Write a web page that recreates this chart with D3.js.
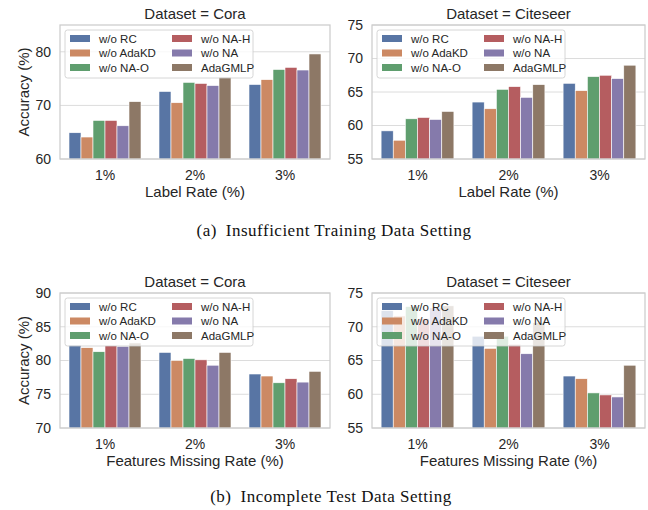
<!DOCTYPE html>
<html>
<head>
<meta charset="utf-8">
<script src="https://cdn.jsdelivr.net/npm/d3@7"></script>
<style>
  body { margin: 0; background: #fff; }
  svg { display: block; }
</style>
</head>
<body>
<svg id="chart" width="648" height="510"></svg>
<script>
const rates = ["1%", "2%", "3%"];
const variants = ["w/o RC", "w/o AdaKD", "w/o NA-O", "w/o NA-H", "w/o NA", "AdaGMLP"];
const colors = ["#5875a4", "#cc8963", "#5f9e6e", "#b55d60", "#857aab", "#8d7866"];

// one row per rate, one value per variant
const coraLabel = [
    [64.9, 64.1, 67.2, 67.2, 66.2, 70.7],
    [72.6, 70.5, 74.3, 74.1, 73.7, 75.3],
    [73.9, 74.8, 76.7, 77.1, 76.6, 79.6]
];
const citeseerLabel = [
    [59.2, 57.8, 61.0, 61.2, 60.9, 62.1],
    [63.5, 62.5, 65.4, 65.8, 64.2, 66.1],
    [66.3, 65.2, 67.3, 67.5, 67.0, 69.0]
];
const coraMissing = [
    [82.3, 81.9, 81.3, 82.2, 82.1, 82.6],
    [81.2, 80.0, 80.3, 80.1, 79.3, 81.2],
    [78.0, 77.7, 76.7, 77.3, 76.8, 78.4]
];
const citeseerMissing = [
    [72.4, 71.6, 73.0, 71.2, 72.8, 73.1],
    [68.6, 66.8, 68.6, 67.4, 66.0, 70.6],
    [62.7, 62.3, 60.2, 59.9, 59.6, 64.3]
];

const coraLabelTicks = [60, 70, 80];
const citeseerTicks = [55, 60, 65, 70, 75];
const coraMissingTicks = [70, 75, 80, 85, 90];

const panels = [
    { x0: 60, x1: 330, top: 25, bottom: 159, domain: [60, 85], ticks: coraLabelTicks,
      title: "Dataset = Cora", xlabel: "Label Rate (%)", ylabel: true, values: coraLabel },
    { x0: 372, x1: 645, top: 25, bottom: 159, domain: [55, 75], ticks: citeseerTicks,
      title: "Dataset = Citeseer", xlabel: "Label Rate (%)", ylabel: false, values: citeseerLabel },
    { x0: 60, x1: 330, top: 293, bottom: 428, domain: [70, 90], ticks: coraMissingTicks,
      title: "Dataset = Cora", xlabel: "Features Missing Rate (%)", ylabel: true, values: coraMissing },
    { x0: 372, x1: 645, top: 293, bottom: 428, domain: [55, 75], ticks: citeseerTicks,
      title: "Dataset = Citeseer", xlabel: "Features Missing Rate (%)", ylabel: false, values: citeseerMissing }
];

const captions = [
    { text: "(a)\u2002Insufficient Training Data Setting", x: 334, y: 236 },
    { text: "(b)\u2002Incomplete Test Data Setting", x: 331, y: 502 }
];

const sans = "Liberation Sans, Arial, sans-serif";
const svg = d3.select("#chart");

panels.forEach(function (p) {
    let g = svg.append("g");

    let x = d3.scaleBand()
        .domain(rates)
        .range([p.x0, p.x1]);

    let inner = d3.scaleBand()
        .domain(variants)
        .range([0, x.bandwidth() * 0.8]);

    let y = d3.scaleLinear()
        .domain(p.domain)
        .range([p.bottom, p.top]);

    // grid
    g.selectAll(".grid")
        .data(p.ticks)
        .enter()
        .append("line")
        .attr("x1", p.x0)
        .attr("x2", p.x1)
        .attr("y1", d => y(d))
        .attr("y2", d => y(d))
        .style("stroke", "#dcdcdc")
        .style("stroke-width", 1);

    // bars
    let groups = g.selectAll(".grp")
        .data(rates)
        .enter()
        .append("g")
        .attr("transform", d => `translate(${x(d) + x.bandwidth() * 0.1},0)`);

    groups.selectAll("rect")
        .data((r, i) => variants.map((v, j) => ({ v: v, val: p.values[i][j], c: colors[j] })))
        .enter()
        .append("rect")
        .attr("x", d => inner(d.v))
        .attr("width", inner.bandwidth())
        .attr("y", d => y(d.val))
        .attr("height", d => p.bottom - y(d.val))
        .style("fill", d => d.c)
        .style("stroke", "#fff")
        .style("stroke-width", 0.6);

    // frame
    g.append("rect")
        .attr("x", p.x0)
        .attr("y", p.top)
        .attr("width", p.x1 - p.x0)
        .attr("height", p.bottom - p.top)
        .style("fill", "none")
        .style("stroke", "#cccccc")
        .style("stroke-width", 1.25);

    // axes
    let yAxis = g.append("g")
        .attr("transform", `translate(${p.x0},0)`)
        .call(d3.axisLeft(y).tickValues(p.ticks).tickSize(0).tickPadding(9));
    yAxis.select(".domain").remove();
    yAxis.selectAll("text")
        .style("font-family", sans)
        .style("font-size", "14px")
        .style("fill", "#262626");

    let xAxis = g.append("g")
        .attr("transform", `translate(0,${p.bottom})`)
        .call(d3.axisBottom(x).tickSize(0).tickPadding(11));
    xAxis.select(".domain").remove();
    xAxis.selectAll("text")
        .style("font-family", sans)
        .style("font-size", "14px")
        .style("fill", "#262626");

    g.append("text")
        .attr("x", (p.x0 + p.x1) / 2)
        .attr("y", p.top - 6)
        .attr("text-anchor", "middle")
        .style("font-family", sans)
        .style("font-size", "15px")
        .style("fill", "#262626")
        .text(p.title);

    g.append("text")
        .attr("x", (p.x0 + p.x1) / 2)
        .attr("y", p.bottom + 38)
        .attr("text-anchor", "middle")
        .style("font-family", sans)
        .style("font-size", "15px")
        .style("fill", "#262626")
        .text(p.xlabel);

    if (p.ylabel) {
        g.append("text")
            .attr("transform", `translate(${p.x0 - 31},${(p.top + p.bottom) / 2}) rotate(-90)`)
            .attr("text-anchor", "middle")
            .style("font-family", sans)
            .style("font-size", "15px")
            .style("fill", "#262626")
            .text("Accuracy (%)");
    }

    // legend
    let lx = p.x0 + 5, ly = p.top + 5;
    let leg = g.append("g").attr("transform", `translate(${lx},${ly})`);
    leg.append("rect")
        .attr("width", 188)
        .attr("height", 48)
        .attr("rx", 2.5)
        .style("fill", "#fff")
        .style("fill-opacity", 0.8)
        .style("stroke", "#cccccc")
        .style("stroke-width", 0.8);

    let items = leg.selectAll(".item")
        .data(variants)
        .enter()
        .append("g")
        .attr("transform", (d, i) => `translate(${i < 3 ? 5 : 107},${8.5 + (i % 3) * 14.5})`);

    items.append("rect")
        .attr("y", -3.5)
        .attr("width", 20)
        .attr("height", 7)
        .style("fill", (d, i) => colors[i]);

    items.append("text")
        .attr("x", 29)
        .attr("y", 4)
        .style("font-family", sans)
        .style("font-size", "11.5px")
        .style("fill", "#262626")
        .text(d => d);
});

svg.selectAll(".caption")
    .data(captions)
    .enter()
    .append("text")
    .attr("x", d => d.x)
    .attr("y", d => d.y)
    .attr("text-anchor", "middle")
    .style("font-family", "Liberation Serif, Times New Roman, serif")
    .style("font-size", "17px")
    .style("letter-spacing", "0.5px")
    .style("fill", "#111")
    .text(d => d.text);
</script>
</body>
</html>
